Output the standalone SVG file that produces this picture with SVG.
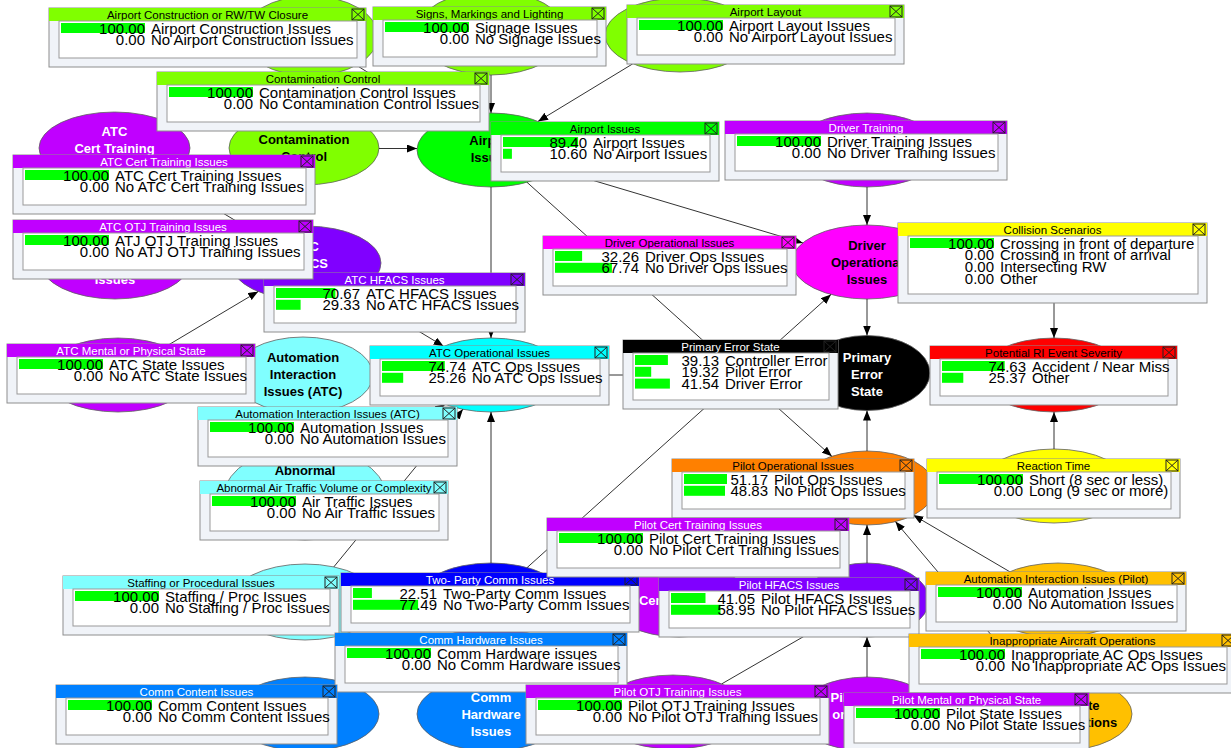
<svg xmlns="http://www.w3.org/2000/svg" width="1231" height="748" viewBox="0 0 1231 748">
<style>
.fr{fill:#f0f3f8;stroke:#8e8e8e;stroke-width:1}
.pn{fill:#fff;stroke:#999;stroke-width:1}
.bar{fill:#00ff00}
.tt{font-family:"Liberation Sans",Arial,sans-serif;font-size:11.5px;text-anchor:middle;fill:#000}
.n{font-family:"Liberation Sans",Arial,sans-serif;font-size:15px;text-anchor:end;fill:#000}
.s{font-family:"Liberation Sans",Arial,sans-serif;font-size:15px;fill:#000}
.xb{fill:none;stroke:#222;stroke-width:1}
.lb{font-family:"Liberation Sans",Arial,sans-serif;font-size:13px;font-weight:bold;text-anchor:middle;fill:#000}
.e{stroke:#606060;stroke-width:0.8}
.ln{stroke:#333;stroke-width:1;fill:none;marker-end:url(#ah)}
.tt.w,.lb.w{fill:#fff}
</style>
<defs>
<marker id="ah" viewBox="0 0 10 8" refX="10" refY="4" markerWidth="10" markerHeight="8" markerUnits="userSpaceOnUse" orient="auto"><path d="M0 0L10 4L0 8z" fill="#000"/></marker>
</defs>
<rect width="1231" height="748" fill="#fff"/>

<g id="nodes">
<g id="node-airport-construction"><ellipse class="e" cx="310" cy="36" rx="68" ry="40" fill="#80ff00"/></g>
<g id="node-signs"><ellipse class="e" cx="491" cy="33" rx="75" ry="42" fill="#80ff00"/></g>
<g id="node-airport-layout"><ellipse class="e" cx="680" cy="35" rx="75" ry="37" fill="#80ff00"/></g>
<g id="node-contamination"><ellipse class="e" cx="304" cy="148" rx="75" ry="37" fill="#80ff00"/><text class="lb" x="304" y="143.5">Contamination</text><text class="lb" x="304" y="160.5">Control</text></g>
<g id="node-airport-issues"><ellipse class="e" cx="491" cy="150" rx="74" ry="37" fill="#00ff00"/><text class="lb" x="491" y="145">Airport</text><text class="lb" x="491" y="162">Issues</text></g>
<g id="node-driver-training"><ellipse class="e" cx="867" cy="150" rx="75" ry="37" fill="#c000ff"/></g>
<g id="node-atc-cert"><ellipse class="e" cx="114.5" cy="148" rx="75.5" ry="36" fill="#c000ff"/><text class="lb w" x="114.5" y="135.5">ATC</text><text class="lb w" x="114.5" y="152.5">Cert Training</text></g>
<g id="node-atc-otj"><ellipse class="e" cx="115" cy="262" rx="75" ry="37" fill="#c000ff"/><text class="lb w" x="115" y="283.5">Issues</text></g>
<g id="node-atc-hfacs"><ellipse class="e" cx="306" cy="263" rx="75" ry="37" fill="#8000ff"/><text class="lb w" x="306" y="250.5">ATC</text><text class="lb w" x="306" y="267.5">HFACS</text></g>
<g id="node-atc-mental"><ellipse class="e" cx="118" cy="375" rx="75" ry="37" fill="#c000ff"/></g>
<g id="node-automation-atc"><ellipse class="e" cx="303" cy="375" rx="70" ry="38" fill="#80ffff"/><text class="lb" x="303" y="361.5">Automation</text><text class="lb" x="303" y="378.5">Interaction</text><text class="lb" x="303" y="395.5">Issues (ATC)</text></g>
<g id="node-atc-ops"><ellipse class="e" cx="491" cy="375" rx="75" ry="37" fill="#00ffff"/></g>
<g id="node-abnormal"><ellipse class="e" cx="305" cy="494" rx="80" ry="46" fill="#80ffff"/><text class="lb" x="305" y="474.5">Abnormal</text></g>
<g id="node-staffing"><ellipse class="e" cx="305" cy="602" rx="75" ry="38" fill="#80ffff"/></g>
<g id="node-two-party"><ellipse class="e" cx="491" cy="600" rx="75" ry="37" fill="#0000ff"/></g>
<g id="node-comm-hardware"><ellipse class="e" cx="491" cy="714" rx="74" ry="37" fill="#0080ff"/><text class="lb w" x="491" y="701.5">Comm</text><text class="lb w" x="491" y="718.5">Hardware</text><text class="lb w" x="491" y="735.5">Issues</text></g>
<g id="node-comm-content"><ellipse class="e" cx="305" cy="714" rx="74" ry="37" fill="#0080ff"/></g>
<g id="node-driver-ops"><ellipse class="e" cx="867" cy="262" rx="75" ry="37" fill="#ff00ff"/><text class="lb" x="867" y="249.5">Driver</text><text class="lb" x="867" y="266.5">Operational</text><text class="lb" x="867" y="283.5">Issues</text></g>
<g id="node-collision"><ellipse class="e" cx="1054" cy="262" rx="75" ry="37" fill="#ffff00"/></g>
<g id="node-pes"><ellipse class="e" cx="867" cy="373" rx="63" ry="37.5" fill="#000"/><text class="lb w" x="867" y="361.5">Primary</text><text class="lb w" x="867" y="378.5">Error</text><text class="lb w" x="867" y="395.5">State</text></g>
<g id="node-ri-severity"><ellipse class="e" cx="1054" cy="375" rx="75" ry="37" fill="#ff0000"/></g>
<g id="node-pilot-ops"><ellipse class="e" cx="867" cy="488" rx="68" ry="37" fill="#ff8000"/></g>
<g id="node-reaction-time"><ellipse class="e" cx="1054" cy="486" rx="75" ry="37" fill="#ffff00"/></g>
<g id="node-pilot-cert"><ellipse class="e" cx="679" cy="600" rx="70" ry="37" fill="#c000ff"/><text class="lb w" x="679" y="604.5">Cert Training</text></g>
<g id="node-pilot-hfacs"><ellipse class="e" cx="867" cy="600" rx="62" ry="37" fill="#8000ff"/></g>
<g id="node-automation-pilot"><ellipse class="e" cx="1058" cy="600" rx="75" ry="37" fill="#ffc000"/></g>
<g id="node-inappropriate"><ellipse class="e" cx="1058" cy="714" rx="74" ry="37" fill="#ffc000"/><text class="lb" x="1058" y="709.5">Inappropriate</text><text class="lb" x="1058" y="726.5">Aircraft Operations</text></g>
<g id="node-pilot-otj"><ellipse class="e" cx="673" cy="712" rx="75" ry="37" fill="#c000ff"/></g>
<g id="node-pilot-mental"><ellipse class="e" cx="867" cy="714" rx="70" ry="37" fill="#c000ff"/><text class="lb w" x="867" y="701.5">Pilot Mental</text><text class="lb w" x="867" y="718.5">or Physical</text></g>
</g>

<g id="connectors">
<path class="ln" d="M356.4 65.2L445 121"/>
<path class="ln" d="M491 75L491 113"/>
<path class="ln" d="M632.8 63.8L538 121.4"/>
<path class="ln" d="M379 148.5L417 148.5"/>
<path class="ln" d="M491 187L491 338"/>
<path class="ln" d="M554.5 168.9L802.8 242.9"/>
<path class="ln" d="M527 182.3L831.8 456.3"/>
<path class="ln" d="M867 187L867 225"/>
<path class="ln" d="M867 299L867 335.5"/>
<path class="ln" d="M1054 299L1054 338"/>
<path class="ln" d="M1054 449L1054 412"/>
<path class="ln" d="M867 451L867 410.5"/>
<path class="ln" d="M867 563L867 525"/>
<path class="ln" d="M867 677L867 637"/>
<path class="ln" d="M1009.7 571.7L913.3 515.1"/>
<path class="ln" d="M1029.2 679.9L895.4 521.6"/>
<path class="ln" d="M161.5 176.2L258.4 234.4"/>
<path class="ln" d="M165.8 346.5L258.2 291.5"/>
<path class="ln" d="M353.4 291.7L443.6 346.3"/>
<path class="ln" d="M358.5 459.8L445.2 404.3"/>
<path class="ln" d="M333.8 566.9L462.9 409.3"/>
<path class="ln" d="M491 563L491 412"/>
<path class="ln" d="M527.1 567.6L831 294.4"/>
<path class="ln" d="M721.7 683.9L822.4 625.7"/>
<path class="ln" d="M566 375L804 375"/>
</g>

<g id="monitors">
<g id="m-airport-construction" transform="translate(49,8)"><rect class="fr" width="317" height="59"/><rect width="317" height="13" fill="#80ff00"/><text class="tt" x="158.5" y="10.5">Airport Construction or RW/TW Closure</text><g class="xb"><rect x="303" y="1" width="12" height="11"/><path d="M303 1l12 11M315 1l-12 11"/></g><rect class="pn" x="10" y="13" width="298" height="37"/><rect class="bar" x="12" y="15" width="84" height="10"/><text class="n" x="96" y="25.5">100.00</text><text class="s" x="102" y="25.5">Airport Construction Issues</text><text class="n" x="96" y="37.3">0.00</text><text class="s" x="102" y="37.3">No Airport Construction Issues</text></g>

<g id="m-signs" transform="translate(373,7)"><rect class="fr" width="233" height="59"/><rect width="233" height="13" fill="#80ff00"/><text class="tt" x="116.5" y="10.5">Signs, Markings and Lighting</text><g class="xb"><rect x="219" y="1" width="12" height="11"/><path d="M219 1l12 11M231 1l-12 11"/></g><rect class="pn" x="10" y="13" width="214" height="37"/><rect class="bar" x="12" y="15" width="84" height="10"/><text class="n" x="96" y="25.5">100.00</text><text class="s" x="102" y="25.5">Signage Issues</text><text class="n" x="96" y="37.3">0.00</text><text class="s" x="102" y="37.3">No Signage Issues</text></g>

<g id="m-airport-layout" transform="translate(627,5)"><rect class="fr" width="277" height="59"/><rect width="277" height="13" fill="#80ff00"/><text class="tt" x="138.5" y="10.5">Airport Layout</text><g class="xb"><rect x="263" y="1" width="12" height="11"/><path d="M263 1l12 11M275 1l-12 11"/></g><rect class="pn" x="10" y="13" width="258" height="37"/><rect class="bar" x="12" y="15" width="84" height="10"/><text class="n" x="96" y="25.5">100.00</text><text class="s" x="102" y="25.5">Airport Layout Issues</text><text class="n" x="96" y="37.3">0.00</text><text class="s" x="102" y="37.3">No Airport Layout Issues</text></g>

<g id="m-contamination" transform="translate(157,72)"><rect class="fr" width="332" height="59"/><rect width="332" height="13" fill="#80ff00"/><text class="tt" x="166" y="10.5">Contamination Control</text><g class="xb"><rect x="318" y="1" width="12" height="11"/><path d="M318 1l12 11M330 1l-12 11"/></g><rect class="pn" x="10" y="13" width="313" height="37"/><rect class="bar" x="12" y="15" width="84" height="10"/><text class="n" x="96" y="25.5">100.00</text><text class="s" x="102" y="25.5">Contamination Control Issues</text><text class="n" x="96" y="37.3">0.00</text><text class="s" x="102" y="37.3">No Contamination Control Issues</text></g>

<g id="m-airport-issues" transform="translate(491,122)"><rect class="fr" width="228" height="59"/><rect width="228" height="13" fill="#00ff00"/><text class="tt" x="114" y="10.5">Airport Issues</text><g class="xb"><rect x="214" y="1" width="12" height="11"/><path d="M214 1l12 11M226 1l-12 11"/></g><rect class="pn" x="10" y="13" width="209" height="37"/><rect class="bar" x="12" y="15" width="75.1" height="10"/><rect class="bar" x="12" y="26.8" width="8.9" height="10"/><text class="n" x="96" y="25.5">89.40</text><text class="s" x="102" y="25.5">Airport Issues</text><text class="n" x="96" y="37.3">10.60</text><text class="s" x="102" y="37.3">No Airport Issues</text></g>

<g id="m-driver-training" transform="translate(725,121)"><rect class="fr" width="282" height="59"/><rect width="282" height="13" fill="#c000ff"/><text class="tt w" x="141" y="10.5">Driver Training</text><g class="xb"><rect x="268" y="1" width="12" height="11"/><path d="M268 1l12 11M280 1l-12 11"/></g><rect class="pn" x="10" y="13" width="263" height="37"/><rect class="bar" x="12" y="15" width="84" height="10"/><text class="n" x="96" y="25.5">100.00</text><text class="s" x="102" y="25.5">Driver Training Issues</text><text class="n" x="96" y="37.3">0.00</text><text class="s" x="102" y="37.3">No Driver Training Issues</text></g>

<g id="m-atc-cert" transform="translate(13,155)"><rect class="fr" width="302" height="59"/><rect width="302" height="13" fill="#c000ff"/><text class="tt w" x="151" y="10.5">ATC Cert Training Issues</text><g class="xb"><rect x="288" y="1" width="12" height="11"/><path d="M288 1l12 11M300 1l-12 11"/></g><rect class="pn" x="10" y="13" width="283" height="37"/><rect class="bar" x="12" y="15" width="84" height="10"/><text class="n" x="96" y="25.5">100.00</text><text class="s" x="102" y="25.5">ATC Cert Training Issues</text><text class="n" x="96" y="37.3">0.00</text><text class="s" x="102" y="37.3">No ATC Cert Training Issues</text></g>

<g id="m-atc-hfacs" transform="translate(264,273)"><rect class="fr" width="261" height="59"/><rect width="261" height="13" fill="#8000ff"/><text class="tt w" x="130.5" y="10.5">ATC HFACS Issues</text><g class="xb"><rect x="247" y="1" width="12" height="11"/><path d="M247 1l12 11M259 1l-12 11"/></g><rect class="pn" x="10" y="13" width="242" height="37"/><rect class="bar" x="12" y="15" width="59.4" height="10"/><rect class="bar" x="12" y="26.8" width="24.6" height="10"/><text class="n" x="96" y="25.5">70.67</text><text class="s" x="102" y="25.5">ATC HFACS Issues</text><text class="n" x="96" y="37.3">29.33</text><text class="s" x="102" y="37.3">No ATC HFACS Issues</text></g>

<g id="m-atc-otj" transform="translate(13,220)"><rect class="fr" width="300" height="59"/><rect width="300" height="13" fill="#c000ff"/><text class="tt w" x="150" y="10.5">ATC OTJ Training Issues</text><g class="xb"><rect x="286" y="1" width="12" height="11"/><path d="M286 1l12 11M298 1l-12 11"/></g><rect class="pn" x="10" y="13" width="281" height="37"/><rect class="bar" x="12" y="15" width="84" height="10"/><text class="n" x="96" y="25.5">100.00</text><text class="s" x="102" y="25.5">ATJ OTJ Training Issues</text><text class="n" x="96" y="37.3">0.00</text><text class="s" x="102" y="37.3">No ATJ OTJ Training Issues</text></g>

<g id="m-atc-mental" transform="translate(7,344)"><rect class="fr" width="248" height="59"/><rect width="248" height="13" fill="#c000ff"/><text class="tt w" x="124" y="10.5">ATC Mental or Physical State</text><g class="xb"><rect x="234" y="1" width="12" height="11"/><path d="M234 1l12 11M246 1l-12 11"/></g><rect class="pn" x="10" y="13" width="229" height="37"/><rect class="bar" x="12" y="15" width="84" height="10"/><text class="n" x="96" y="25.5">100.00</text><text class="s" x="102" y="25.5">ATC State Issues</text><text class="n" x="96" y="37.3">0.00</text><text class="s" x="102" y="37.3">No ATC State Issues</text></g>

<g id="m-atc-ops" transform="translate(370,346)"><rect class="fr" width="239" height="59"/><rect width="239" height="13" fill="#00ffff"/><text class="tt" x="119.5" y="10.5">ATC Operational Issues</text><g class="xb"><rect x="225" y="1" width="12" height="11"/><path d="M225 1l12 11M237 1l-12 11"/></g><rect class="pn" x="10" y="13" width="220" height="37"/><rect class="bar" x="12" y="15" width="62.8" height="10"/><rect class="bar" x="12" y="26.8" width="21.2" height="10"/><text class="n" x="96" y="25.5">74.74</text><text class="s" x="102" y="25.5">ATC Ops Issues</text><text class="n" x="96" y="37.3">25.26</text><text class="s" x="102" y="37.3">No ATC Ops Issues</text></g>

<g id="m-automation-atc" transform="translate(198,407)"><rect class="fr" width="259" height="59"/><rect width="259" height="13" fill="#80ffff"/><text class="tt" x="129.5" y="10.5">Automation Interaction Issues (ATC)</text><g class="xb"><rect x="245" y="1" width="12" height="11"/><path d="M245 1l12 11M257 1l-12 11"/></g><rect class="pn" x="10" y="13" width="240" height="37"/><rect class="bar" x="12" y="15" width="84" height="10"/><text class="n" x="96" y="25.5">100.00</text><text class="s" x="102" y="25.5">Automation Issues</text><text class="n" x="96" y="37.3">0.00</text><text class="s" x="102" y="37.3">No Automation Issues</text></g>

<g id="m-abnormal" transform="translate(200,481)"><rect class="fr" width="248" height="59"/><rect width="248" height="13" fill="#80ffff"/><text class="tt" x="124" y="10.5">Abnormal Air Traffic Volume or Complexity</text><g class="xb"><rect x="234" y="1" width="12" height="11"/><path d="M234 1l12 11M246 1l-12 11"/></g><rect class="pn" x="10" y="13" width="229" height="37"/><rect class="bar" x="12" y="15" width="84" height="10"/><text class="n" x="96" y="25.5">100.00</text><text class="s" x="102" y="25.5">Air Traffic Issues</text><text class="n" x="96" y="37.3">0.00</text><text class="s" x="102" y="37.3">No Air Traffic Issues</text></g>

<g id="m-staffing" transform="translate(63,576)"><rect class="fr" width="276" height="59"/><rect width="276" height="13" fill="#80ffff"/><text class="tt" x="138" y="10.5">Staffing or Procedural Issues</text><g class="xb"><rect x="262" y="1" width="12" height="11"/><path d="M262 1l12 11M274 1l-12 11"/></g><rect class="pn" x="10" y="13" width="257" height="37"/><rect class="bar" x="12" y="15" width="84" height="10"/><text class="n" x="96" y="25.5">100.00</text><text class="s" x="102" y="25.5">Staffing / Proc Issues</text><text class="n" x="96" y="37.3">0.00</text><text class="s" x="102" y="37.3">No Staffing / Proc Issues</text></g>

<g id="m-two-party" transform="translate(341,573)"><rect class="fr" width="298" height="59"/><rect width="298" height="13" fill="#0000ff"/><text class="tt w" x="149" y="10.5">Two- Party Comm Issues</text><g class="xb"><rect x="284" y="1" width="12" height="11"/><path d="M284 1l12 11M296 1l-12 11"/></g><rect class="pn" x="10" y="13" width="279" height="37"/><rect class="bar" x="12" y="15" width="18.9" height="10"/><rect class="bar" x="12" y="26.8" width="65.1" height="10"/><text class="n" x="96" y="25.5">22.51</text><text class="s" x="102" y="25.5">Two-Party Comm Issues</text><text class="n" x="96" y="37.3">77.49</text><text class="s" x="102" y="37.3">No Two-Party Comm Issues</text></g>

<g id="m-comm-hardware" transform="translate(335,633)"><rect class="fr" width="292" height="59"/><rect width="292" height="13" fill="#0080ff"/><text class="tt w" x="146" y="10.5">Comm Hardware Issues</text><g class="xb"><rect x="278" y="1" width="12" height="11"/><path d="M278 1l12 11M290 1l-12 11"/></g><rect class="pn" x="10" y="13" width="273" height="37"/><rect class="bar" x="12" y="15" width="84" height="10"/><text class="n" x="96" y="25.5">100.00</text><text class="s" x="102" y="25.5">Comm Hardware issues</text><text class="n" x="96" y="37.3">0.00</text><text class="s" x="102" y="37.3">No Comm Hardware issues</text></g>

<g id="m-comm-content" transform="translate(56,685)"><rect class="fr" width="281" height="59"/><rect width="281" height="13" fill="#0080ff"/><text class="tt w" x="140.5" y="10.5">Comm Content Issues</text><g class="xb"><rect x="267" y="1" width="12" height="11"/><path d="M267 1l12 11M279 1l-12 11"/></g><rect class="pn" x="10" y="13" width="262" height="37"/><rect class="bar" x="12" y="15" width="84" height="10"/><text class="n" x="96" y="25.5">100.00</text><text class="s" x="102" y="25.5">Comm Content Issues</text><text class="n" x="96" y="37.3">0.00</text><text class="s" x="102" y="37.3">No Comm Content Issues</text></g>

<g id="m-driver-ops" transform="translate(543,236)"><rect class="fr" width="253" height="59"/><rect width="253" height="13" fill="#ff00ff"/><text class="tt" x="126.5" y="10.5">Driver Operational Issues</text><g class="xb"><rect x="239" y="1" width="12" height="11"/><path d="M239 1l12 11M251 1l-12 11"/></g><rect class="pn" x="10" y="13" width="234" height="37"/><rect class="bar" x="12" y="15" width="27.1" height="10"/><rect class="bar" x="12" y="26.8" width="56.9" height="10"/><text class="n" x="96" y="25.5">32.26</text><text class="s" x="102" y="25.5">Driver Ops Issues</text><text class="n" x="96" y="37.3">67.74</text><text class="s" x="102" y="37.3">No Driver Ops Issues</text></g>

<g id="m-collision" transform="translate(898,223)"><rect class="fr" width="309" height="80"/><rect width="309" height="13" fill="#ffff00"/><text class="tt" x="154.5" y="10.5">Collision Scenarios</text><g class="xb"><rect x="295" y="1" width="12" height="11"/><path d="M295 1l12 11M307 1l-12 11"/></g><rect class="pn" x="10" y="13" width="290" height="58"/><rect class="bar" x="12" y="15" width="84" height="10"/><text class="n" x="96" y="25.5">100.00</text><text class="s" x="102" y="25.5">Crossing in front of departure</text><text class="n" x="96" y="37.3">0.00</text><text class="s" x="102" y="37.3">Crossing in front of arrival</text><text class="n" x="96" y="49.1">0.00</text><text class="s" x="102" y="49.1">Intersecting RW</text><text class="n" x="96" y="60.9">0.00</text><text class="s" x="102" y="60.9">Other</text></g>

<g id="m-pes" transform="translate(623,340)"><rect class="fr" width="215" height="69"/><rect width="215" height="13" fill="#000"/><text class="tt w" x="107.5" y="10.5">Primary Error State</text><g class="xb"><rect x="201" y="1" width="12" height="11"/><path d="M201 1l12 11M213 1l-12 11"/></g><rect class="pn" x="10" y="13" width="196" height="47"/><rect class="bar" x="12" y="15" width="32.9" height="10"/><rect class="bar" x="12" y="26.8" width="16.2" height="10"/><rect class="bar" x="12" y="38.6" width="34.9" height="10"/><text class="n" x="96" y="25.5">39.13</text><text class="s" x="102" y="25.5">Controller Error</text><text class="n" x="96" y="37.3">19.32</text><text class="s" x="102" y="37.3">Pilot Error</text><text class="n" x="96" y="49.1">41.54</text><text class="s" x="102" y="49.1">Driver Error</text></g>

<g id="m-ri-severity" transform="translate(930,346)"><rect class="fr" width="247" height="59"/><rect width="247" height="13" fill="#ff0000"/><text class="tt" x="123.5" y="10.5">Potential RI Event Severity</text><g class="xb"><rect x="233" y="1" width="12" height="11"/><path d="M233 1l12 11M245 1l-12 11"/></g><rect class="pn" x="10" y="13" width="228" height="37"/><rect class="bar" x="12" y="15" width="62.7" height="10"/><rect class="bar" x="12" y="26.8" width="21.3" height="10"/><text class="n" x="96" y="25.5">74.63</text><text class="s" x="102" y="25.5">Accident / Near Miss</text><text class="n" x="96" y="37.3">25.37</text><text class="s" x="102" y="37.3">Other</text></g>

<g id="m-pilot-ops" transform="translate(672,459)"><rect class="fr" width="242" height="59"/><rect width="242" height="13" fill="#ff8000"/><text class="tt" x="121" y="10.5">Pilot Operational Issues</text><g class="xb"><rect x="228" y="1" width="12" height="11"/><path d="M228 1l12 11M240 1l-12 11"/></g><rect class="pn" x="10" y="13" width="223" height="37"/><rect class="bar" x="12" y="15" width="43" height="10"/><rect class="bar" x="12" y="26.8" width="41" height="10"/><text class="n" x="96" y="25.5">51.17</text><text class="s" x="102" y="25.5">Pilot Ops Issues</text><text class="n" x="96" y="37.3">48.83</text><text class="s" x="102" y="37.3">No Pilot Ops Issues</text></g>

<g id="m-reaction-time" transform="translate(927,459)"><rect class="fr" width="253" height="59"/><rect width="253" height="13" fill="#ffff00"/><text class="tt" x="126.5" y="10.5">Reaction Time</text><g class="xb"><rect x="239" y="1" width="12" height="11"/><path d="M239 1l12 11M251 1l-12 11"/></g><rect class="pn" x="10" y="13" width="234" height="37"/><rect class="bar" x="12" y="15" width="84" height="10"/><text class="n" x="96" y="25.5">100.00</text><text class="s" x="102" y="25.5">Short (8 sec or less)</text><text class="n" x="96" y="37.3">0.00</text><text class="s" x="102" y="37.3">Long (9 sec or more)</text></g>

<g id="m-pilot-cert" transform="translate(547,518)"><rect class="fr" width="302" height="59"/><rect width="302" height="13" fill="#c000ff"/><text class="tt w" x="151" y="10.5">Pilot Cert Training Issues</text><g class="xb"><rect x="288" y="1" width="12" height="11"/><path d="M288 1l12 11M300 1l-12 11"/></g><rect class="pn" x="10" y="13" width="283" height="37"/><rect class="bar" x="12" y="15" width="84" height="10"/><text class="n" x="96" y="25.5">100.00</text><text class="s" x="102" y="25.5">Pilot Cert Training Issues</text><text class="n" x="96" y="37.3">0.00</text><text class="s" x="102" y="37.3">No Pilot Cert Training Issues</text></g>

<g id="m-pilot-hfacs" transform="translate(659,578)"><rect class="fr" width="260" height="59"/><rect width="260" height="13" fill="#8000ff"/><text class="tt w" x="130" y="10.5">Pilot HFACS Issues</text><g class="xb"><rect x="246" y="1" width="12" height="11"/><path d="M246 1l12 11M258 1l-12 11"/></g><rect class="pn" x="10" y="13" width="241" height="37"/><rect class="bar" x="12" y="15" width="34.5" height="10"/><rect class="bar" x="12" y="26.8" width="49.5" height="10"/><text class="n" x="96" y="25.5">41.05</text><text class="s" x="102" y="25.5">Pilot HFACS Issues</text><text class="n" x="96" y="37.3">58.95</text><text class="s" x="102" y="37.3">No Pilot HFACS Issues</text></g>

<g id="m-automation-pilot" transform="translate(926,572)"><rect class="fr" width="260" height="59"/><rect width="260" height="13" fill="#ffc000"/><text class="tt" x="130" y="10.5">Automation Interaction Issues (Pilot)</text><g class="xb"><rect x="246" y="1" width="12" height="11"/><path d="M246 1l12 11M258 1l-12 11"/></g><rect class="pn" x="10" y="13" width="241" height="37"/><rect class="bar" x="12" y="15" width="84" height="10"/><text class="n" x="96" y="25.5">100.00</text><text class="s" x="102" y="25.5">Automation Issues</text><text class="n" x="96" y="37.3">0.00</text><text class="s" x="102" y="37.3">No Automation Issues</text></g>

<g id="m-inappropriate" transform="translate(909,634)"><rect class="fr" width="327" height="59"/><rect width="327" height="13" fill="#ffc000"/><text class="tt" x="163.5" y="10.5">Inappropriate Aircraft Operations</text><g class="xb"><rect x="313" y="1" width="12" height="11"/><path d="M313 1l12 11M325 1l-12 11"/></g><rect class="pn" x="10" y="13" width="308" height="37"/><rect class="bar" x="12" y="15" width="84" height="10"/><text class="n" x="96" y="25.5">100.00</text><text class="s" x="102" y="25.5">Inappropriate AC Ops Issues</text><text class="n" x="96" y="37.3">0.00</text><text class="s" x="102" y="37.3">No Inappropriate AC Ops Issues</text></g>

<g id="m-pilot-otj" transform="translate(526,685)"><rect class="fr" width="303" height="59"/><rect width="303" height="13" fill="#c000ff"/><text class="tt w" x="151.5" y="10.5">Pilot OTJ Training Issues</text><g class="xb"><rect x="289" y="1" width="12" height="11"/><path d="M289 1l12 11M301 1l-12 11"/></g><rect class="pn" x="10" y="13" width="284" height="37"/><rect class="bar" x="12" y="15" width="84" height="10"/><text class="n" x="96" y="25.5">100.00</text><text class="s" x="102" y="25.5">Pilot OTJ Training Issues</text><text class="n" x="96" y="37.3">0.00</text><text class="s" x="102" y="37.3">No Pilot OTJ Training Issues</text></g>

<g id="m-pilot-mental" transform="translate(844,693)"><rect class="fr" width="245" height="59"/><rect width="245" height="13" fill="#c000ff"/><text class="tt w" x="122.5" y="10.5">Pilot Mental or Physical State</text><g class="xb"><rect x="231" y="1" width="12" height="11"/><path d="M231 1l12 11M243 1l-12 11"/></g><rect class="pn" x="10" y="13" width="226" height="37"/><rect class="bar" x="12" y="15" width="84" height="10"/><text class="n" x="96" y="25.5">100.00</text><text class="s" x="102" y="25.5">Pilot State Issues</text><text class="n" x="96" y="37.3">0.00</text><text class="s" x="102" y="37.3">No Pilot State Issues</text></g>
</g>
</svg>
